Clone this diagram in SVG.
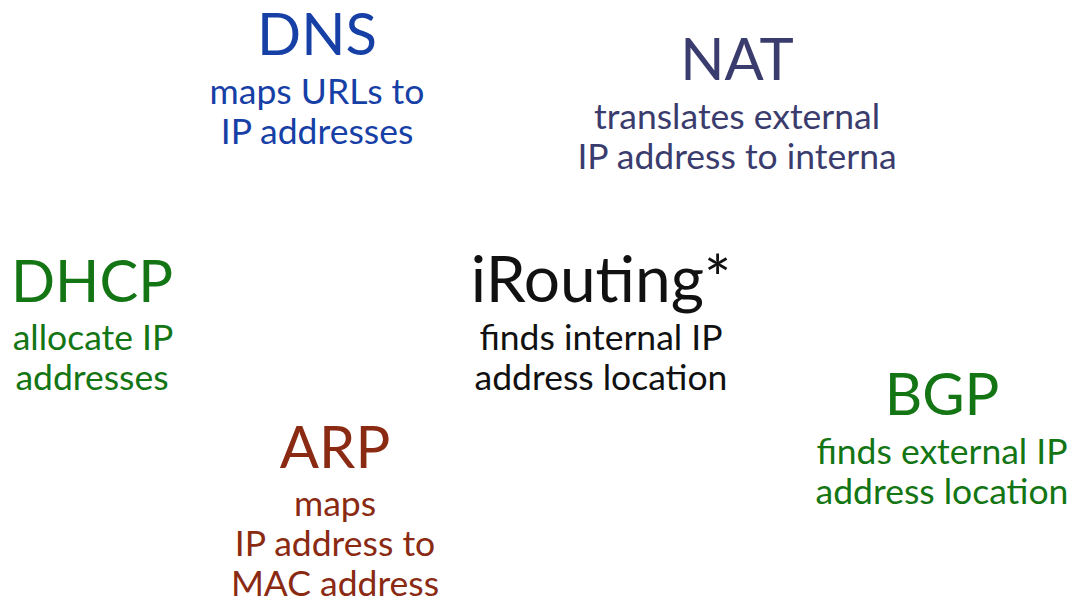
<svg xmlns="http://www.w3.org/2000/svg" width="1073" height="600" viewBox="0 0 1073 600">
  <style>
    text { font-family: Lato, "Noto Sans", sans-serif; text-anchor: middle; }
    .title { font-size: 58px; }
    .big { font-size: 64px; }
    .sub { font-size: 35.5px; }
    .dns { fill: #1640a6; }
    .nat { fill: #3b3c6e; }
    .dhcp { fill: #137513; }
    .arp { fill: #8a2a12; }
    .bgp { fill: #137513; }
    .core { fill: #111111; }
  </style>
  <rect width="1073" height="600" fill="#ffffff"/>
  <g id="dns" class="dns">
    <text class="title" x="317" y="55">DNS</text>
    <text class="sub" x="317" y="104">maps URLs to</text>
    <text class="sub" x="317" y="144">IP addresses</text>
  </g>
  <g id="nat" class="nat">
    <text class="title" x="737" y="80">NAT</text>
    <text class="sub" x="737" y="129">translates external</text>
    <text class="sub" x="737" y="169">IP address to interna</text>
  </g>
  <g id="dhcp" class="dhcp">
    <text class="title" x="92" y="302">DHCP</text>
    <text class="sub" x="93" y="350">allocate IP</text>
    <text class="sub" x="92" y="390">addresses</text>
  </g>
  <g id="irouting" class="core">
    <text class="big" x="601" y="302">iRouting*</text>
    <text class="sub" x="601" y="350">finds internal IP</text>
    <text class="sub" x="601" y="390">address location</text>
  </g>
  <g id="bgp" class="bgp">
    <text class="title" x="942" y="415">BGP</text>
    <text class="sub" x="942" y="464">finds external IP</text>
    <text class="sub" x="942" y="504">address location</text>
  </g>
  <g id="arp" class="arp">
    <text class="title" x="335" y="468">ARP</text>
    <text class="sub" x="335" y="516">maps</text>
    <text class="sub" x="335" y="556">IP address to</text>
    <text class="sub" x="335" y="596">MAC address</text>
  </g>
  <g id="connectors"></g>
</svg>
